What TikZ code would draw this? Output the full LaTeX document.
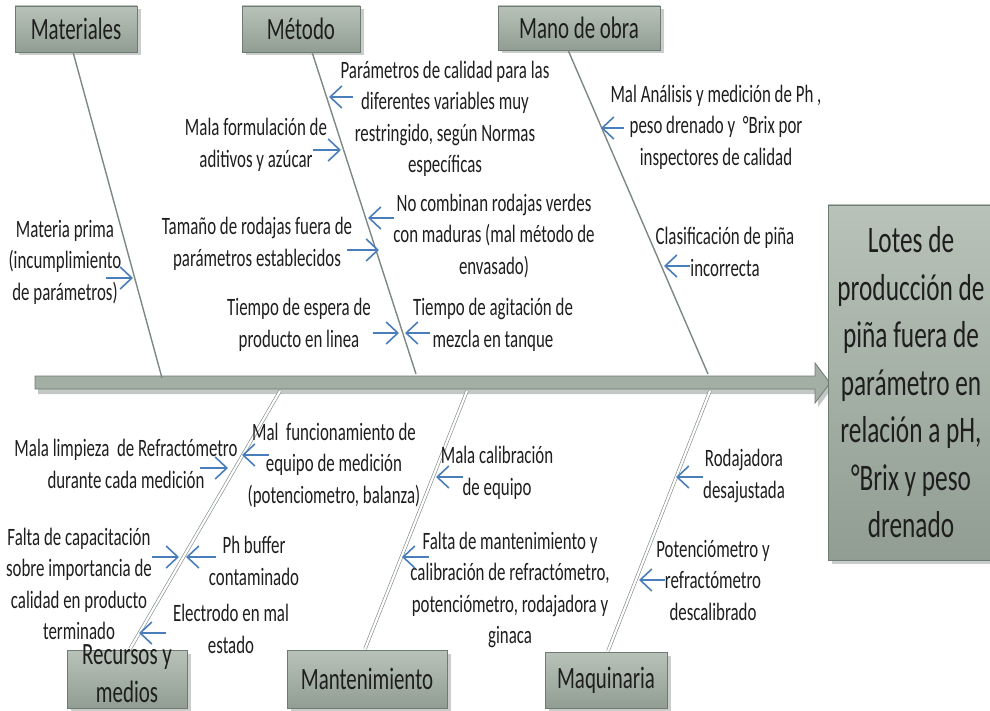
\documentclass[tikz,border=0pt]{standalone}
\usepackage{fontspec}
\setmainfont[FakeStretch=0.675]{Carlito}
\usetikzlibrary{arrows.meta,shadows}
\definecolor{boxtop}{HTML}{B8C2B9}
\definecolor{boxbot}{HTML}{919D93}
\definecolor{boxedge}{HTML}{6E7B72}
\definecolor{spinefill}{HTML}{A3AFA5}
\definecolor{branchcol}{HTML}{7D8883}
\definecolor{arrowblue}{HTML}{4A7EBB}
\definecolor{txt}{HTML}{1E1E1E}
\definecolor{shadowcol}{HTML}{C4C8C5}
\begin{document}
\begin{tikzpicture}[x=1pt,y=-1pt,
  catbox/.style={draw=boxedge, line width=0.8pt, top color=boxtop, bottom color=boxbot,
    inner sep=0pt, text=txt, font=\fontsize{31}{38}\selectfont, align=center,
    drop shadow={shadow xshift=3.5pt, shadow yshift=-3.5pt, fill=shadowcol, opacity=0.9}},
  effbox/.style={catbox, font=\fontsize{37.5}{47.5}\selectfont},
  lbl/.style={align=center, inner sep=0pt, text=txt, font=\fontsize{25}{31.5}\selectfont},
  topbranch/.style={draw=branchcol, line width=1.4pt},
  botbranch/.style={draw=branchcol, line width=0.6pt, double=white, double distance=2.2pt},
  cause/.style={draw=arrowblue, line width=1.6pt, arrows={-Straight Barb[length=9pt,width=17pt,line width=1.6pt,scale=1.3]}}
]
\useasboundingbox (0,0) rectangle (990,711);

% spine
\fill[shadowcol] (38,380) -- (818,380) -- (818,367) -- (833,387) -- (818,407) -- (818,394) -- (38,394) -- cycle;
\draw[fill=spinefill, draw=boxedge, line width=0.8pt]
  (35,376) -- (815,376) -- (815,363) -- (830,383) -- (815,403) -- (815,389) -- (35,389) -- cycle;

% category boxes
\node[catbox, minimum width=122, minimum height=46] (mat) at (76,29) {Materiales};
\node[catbox, minimum width=118, minimum height=46] (met) at (301,29) {Método};
\node[catbox, minimum width=162, minimum height=44] (mano) at (579,28) {Mano de obra};
\node[catbox, minimum width=120, minimum height=58] (rec) at (127,679) {};
\node[lbl, font=\fontsize{31}{38}\selectfont] (reclbl) at (127,674) {Recursos y\\medios};
\node[catbox, minimum width=160, minimum height=58] (mant) at (367,679) {Mantenimiento};
\node[catbox, minimum width=122, minimum height=56] (maq) at (606,680) {Maquinaria};

% effect box
\node[effbox, minimum width=166, minimum height=355] (eff) at (911,382.5)
  {Lotes de\\producción de\\piña fuera de\\parámetro en\\relación a pH,\\°Brix y peso\\drenado};

% branch coordinates
\coordinate (matA) at (73,52);   \coordinate (matB) at (162,378);
\coordinate (metA) at (312,52);  \coordinate (metB) at (416,374);
\coordinate (manA) at (568,50);  \coordinate (manB) at (708,374);
\coordinate (recA) at (130,649); \coordinate (recB) at (280,391);
\coordinate (mntA) at (365,649); \coordinate (mntB) at (467,391);
\coordinate (maqA) at (608,651); \coordinate (maqB) at (710,391);

\draw[topbranch] (matA) -- (matB);
\draw[topbranch] (metA) -- (metB);
\draw[topbranch] (manA) -- (manB);
\draw[botbranch] (recA) -- (recB);
\draw[botbranch] (mntA) -- (mntB);
\draw[botbranch] (maqA) -- (maqB);

% cause texts
\node[lbl] (param) at (445,119) {Parámetros de calidad para las\\diferentes variables muy\\restringido, según Normas\\específicas};
\node[lbl] (formul) at (256,145) {Mala formulación de\\aditivos y azúcar};
\node[lbl] (manal) at (716,127) {Mal Análisis y medición de Ph ,\\peso drenado y \ °Brix por\\inspectores de calidad};
\node[lbl] (mprima) at (65,262) {Materia prima\\(incumplimiento\\de parámetros)};
\node[lbl] (tamano) at (257,244) {Tamaño de rodajas fuera de\\parámetros establecidos};
\node[lbl] (nocomb) at (494,236) {No combinan rodajas verdes\\con maduras (mal método de\\envasado)};
\node[lbl] (clasif) at (725,252) {Clasificación de piña\\incorrecta};
\node[lbl] (espera) at (299,325) {Tiempo de espera de\\producto en linea};
\node[lbl] (agit) at (493,325) {Tiempo de agitación de\\mezcla en tanque};

\node[lbl] (limp) at (126,464) {Mala limpieza \ de Refractómetro\\durante cada medición};
\node[lbl] (malfunc) at (334,465) {Mal \ funcionamiento de\\equipo de medición\\(potenciometro, balanza)};
\node[lbl] (capac) at (79,584) {Falta de capacitación\\sobre importancia de\\calidad en producto\\terminado};
\node[lbl] (phbuf) at (254,561) {Ph buffer\\contaminado};
\node[lbl] (electr) at (231,629) {Electrodo en mal\\estado};
\node[lbl] (malcal) at (497,473) {Mala calibración\\de equipo};
\node[lbl] (faltam) at (510,590) {Falta de mantenimiento y\\calibración de refractómetro,\\potenciómetro, rodajadora y\\ginaca};
\node[lbl] (rodaj) at (744,476) {Rodajadora\\desajustada};
\node[lbl] (potenc) at (713,580) {Potenciómetro y\\refractómetro\\descalibrado};

% cause arrow coordinates
\coordinate (p1s) at (353,97);  \coordinate (p1e) at (329,97);
\coordinate (p2s) at (313,150); \coordinate (p2e) at (341,150);
\coordinate (p3s) at (106,278); \coordinate (p3e) at (133,278);
\coordinate (p4s) at (347,250); \coordinate (p4e) at (379,250);
\coordinate (p5s) at (394,218); \coordinate (p5e) at (368,218);
\coordinate (p6s) at (373,333); \coordinate (p6e) at (399,333);
\coordinate (p7s) at (430,333); \coordinate (p7e) at (405,333);
\coordinate (p8s) at (624,128); \coordinate (p8e) at (601,128);
\coordinate (p9s) at (690,266); \coordinate (p9e) at (664,266);
\coordinate (q1s) at (200,468); \coordinate (q1e) at (228,468);
\coordinate (q2s) at (269,455); \coordinate (q2e) at (242,455);
\coordinate (q3s) at (152,557); \coordinate (q3e) at (179,557);
\coordinate (q4s) at (216,557); \coordinate (q4e) at (186,557);
\coordinate (q5s) at (166,633); \coordinate (q5e) at (139,633);
\coordinate (q6s) at (463,477); \coordinate (q6e) at (436,477);
\coordinate (q7s) at (429,557); \coordinate (q7e) at (402,557);
\coordinate (q8s) at (703,477); \coordinate (q8e) at (676,477);
\coordinate (q9s) at (665,580); \coordinate (q9e) at (639,580);

\foreach \a in {p1,p2,p3,p4,p5,p6,p7,p8,p9,q1,q2,q3,q4,q5,q6,q7,q8,q9}
  \draw[cause] (\a s) -- (\a e);
\end{tikzpicture}
\end{document}
